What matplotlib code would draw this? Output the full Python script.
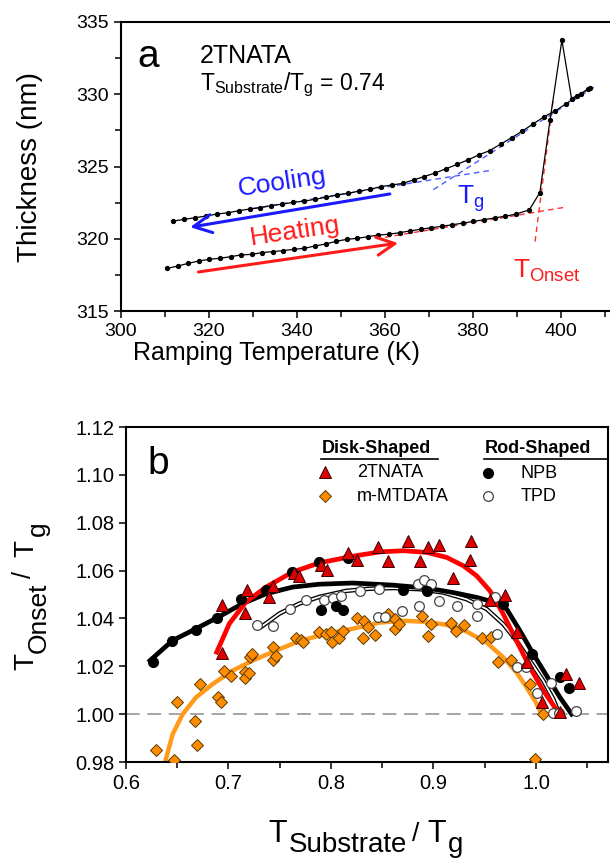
import matplotlib
matplotlib.use("Agg")
import matplotlib.pyplot as plt
from matplotlib.lines import Line2D

plt.rcParams['font.family'] = ['Liberation Sans', 'DejaVu Sans']
plt.rcParams['mathtext.fontset'] = 'custom'
plt.rcParams['mathtext.rm'] = 'Liberation Sans'
plt.rcParams['mathtext.default'] = 'regular'

# ---------- panel a : thickness vs ramping temperature ----------
heat_T = [310.5, 312.9, 315.3, 317.7, 320.1, 322.5, 324.9, 327.3, 329.7, 332.1,
          334.5, 336.9, 339.3, 341.7, 344.1, 346.5, 348.9, 351.3, 353.7, 356.1,
          358.5, 360.9, 363.3, 365.7, 368.1, 370.5, 372.9, 375.3, 377.7, 380.1,
          382.5, 384.9, 387.3, 389.7, 392.8, 395.2, 397.5, 400.2, 402.4, 404.5, 406.6]
heat_d = [317.95, 318.11, 318.30, 318.46, 318.58, 318.65, 318.76, 318.88, 318.92, 319.04,
          319.11, 319.18, 319.27, 319.34, 319.50, 319.64, 319.82, 319.96, 320.03, 320.14,
          320.26, 320.31, 320.42, 320.54, 320.66, 320.76, 320.86, 320.97, 321.08, 321.20,
          321.32, 321.44, 321.56, 321.70, 322.00, 323.20, 328.20, 333.75, 329.70, 330.05, 330.40]

cool_T = [311.9, 314.4, 316.9, 319.3, 321.8, 324.3, 326.8, 329.3, 331.7, 334.2,
          336.7, 339.2, 341.7, 344.1, 346.6, 349.1, 351.6, 354.1, 356.5, 359.0,
          361.5, 364.0, 366.5, 368.9, 371.4, 373.9, 376.4, 378.8, 381.3, 383.8,
          386.3, 388.8, 391.2, 393.7, 396.2, 398.7, 401.2, 403.6, 406.1]
cool_d = [321.23, 321.34, 321.46, 321.57, 321.71, 321.80, 321.94, 322.06, 322.15, 322.29,
          322.40, 322.52, 322.61, 322.73, 322.87, 323.03, 323.14, 323.30, 323.42, 323.60,
          323.72, 323.83, 324.07, 324.30, 324.55, 324.85, 325.15, 325.45, 325.80, 326.10,
          326.55, 327.00, 327.45, 327.95, 328.45, 328.85, 329.35, 329.85, 330.35]

# tangent construction lines
tg_glass_T, tg_glass_d = [330.0, 384.6], [322.10, 324.76]
tg_liq_T, tg_liq_d = [371.0, 408.1], [323.40, 330.60]
on_glass_T, on_glass_d = [360.0, 401.3], [320.10, 322.20]
on_steep_T, on_steep_d = [394.1, 398.3], [319.80, 329.80]

# arrows (tail, head)
cool_arrow = [(361.1, 323.1), (315.7, 320.8)]
heat_arrow = [(317.6, 317.7), (363.0, 319.7)]

# ---------- panel b : T_onset/Tg vs T_substrate/Tg ----------
tnata_x = [0.694, 0.718, 0.716, 0.694, 0.740, 0.743, 0.764, 0.769, 0.790, 0.796,
           0.817, 0.825, 0.846, 0.856, 0.875, 0.887, 0.895, 0.905, 0.919, 0.936,
           0.937, 0.955, 0.970, 0.981, 0.991, 1.0055, 1.0234, 1.029, 1.042]
tnata_y = [1.0458, 1.0520, 1.0424, 1.0256, 1.0490, 1.0537, 1.0590, 1.0578, 1.0625, 1.0602,
           1.0672, 1.0644, 1.0698, 1.0642, 1.0723, 1.0642, 1.0698, 1.0708, 1.0569, 1.0646,
           1.0723, 1.0478, 1.0500, 1.0345, 1.0220, 1.0050, 1.0010, 1.0167, 1.0130]

mtd_x = [0.629, 0.650, 0.647, 0.6725, 0.667, 0.669, 0.690, 0.693, 0.696, 0.702,
         0.716, 0.716, 0.720, 0.721, 0.723, 0.743, 0.743, 0.746, 0.766, 0.771,
         0.773, 0.788, 0.795, 0.800, 0.801, 0.8075, 0.812, 0.825, 0.831, 0.832,
         0.8364, 0.843, 0.856, 0.862, 0.862, 0.866, 0.8885, 0.895, 0.898, 0.917,
         0.9216, 0.930, 0.947, 0.956, 0.963, 0.976, 0.994, 1.007, 0.999]
mtd_y = [0.985, 1.005, 0.981, 1.0126, 0.997, 0.987, 1.0073, 1.005, 1.018, 1.016,
         1.0175, 1.015, 1.017, 1.0238, 1.025, 1.028, 1.0227, 1.0245, 1.032, 1.031,
         1.030, 1.0345, 1.0333, 1.0345, 1.0303, 1.032, 1.0347, 1.040, 1.0317, 1.039,
         1.0366, 1.033, 1.0418, 1.0397, 1.0355, 1.0376, 1.041, 1.0327, 1.0376, 1.038,
         1.0348, 1.0372, 1.0318, 1.0323, 1.022, 1.0226, 1.0125, 1.000, 0.9812]

npb_x = [0.626, 0.645, 0.668, 0.689, 0.712, 0.737, 0.762, 0.788, 0.817, 0.790,
         0.805, 0.812, 0.870, 0.894, 0.968, 0.996, 1.023, 1.0325]
npb_y = [1.0220, 1.0305, 1.0350, 1.0400, 1.0480, 1.0520, 1.0594, 1.0636, 1.0652, 1.0436,
         1.0453, 1.0436, 1.0520, 1.0514, 1.0460, 1.0250, 1.0155, 1.0110]

tpd_x = [0.7275, 0.743, 0.760, 0.776, 0.793, 0.802, 0.810, 0.828, 0.847, 0.846,
         0.853, 0.869, 0.886, 0.885, 0.891, 0.898, 0.905, 0.923, 0.942, 0.942,
         0.960, 0.962, 0.981, 0.990, 1.0007, 1.015, 1.017, 1.022, 1.039]
tpd_y = [1.0373, 1.0367, 1.0440, 1.0475, 1.0478, 1.0487, 1.0495, 1.0515, 1.0522, 1.0404,
         1.0407, 1.0430, 1.0450, 1.0543, 1.0560, 1.0545, 1.0474, 1.0453, 1.0462, 1.0411,
         1.0488, 1.0334, 1.0195, 1.0195, 1.0090, 1.0132, 1.0003, 1.0003, 1.0015]

# fitted curves
fit_tnata_x = [0.6885, 0.7008, 0.7171, 0.7366, 0.7626, 0.7886, 0.8211, 0.8478, 0.8706,
               0.8933, 0.9129, 0.9291, 0.9421, 0.9551, 0.9681, 0.9811, 0.9941, 1.0072,
               1.0202, 1.0234]
fit_tnata_y = [1.0259, 1.0378, 1.0469, 1.0531, 1.0594, 1.0632, 1.0660, 1.0678, 1.0683,
               1.0676, 1.0655, 1.0620, 1.0578, 1.0515, 1.0418, 1.0306, 1.0195, 1.0098,
               1.0017, 1.0000]
fit_npb_x = [0.6234, 0.6455, 0.6683, 0.6911, 0.7138, 0.7366, 0.7626, 0.7886, 0.8211,
             0.8608, 0.8933, 0.9194, 0.9421, 0.9584, 0.9714, 0.9844, 0.9974, 1.0104,
             1.0234, 1.0348]
fit_npb_y = [1.0224, 1.0308, 1.0357, 1.0408, 1.0462, 1.0503, 1.0531, 1.0543, 1.0548,
             1.0539, 1.0527, 1.0508, 1.0488, 1.0469, 1.0439, 1.0348, 1.0251, 1.0160,
             1.0070, 1.0000]
fit_tpd_x = [0.7317, 0.7496, 0.7691, 0.7886, 0.8146, 0.8374, 0.8608, 0.8868, 0.9096,
             0.9324, 0.9519, 0.9681, 0.9811, 0.9941, 1.0072, 1.0169, 1.0228]
fit_tpd_y = [1.0364, 1.0420, 1.0462, 1.0490, 1.0515, 1.0524, 1.0527, 1.0522, 1.0508,
             1.0480, 1.0439, 1.0376, 1.0306, 1.0223, 1.0139, 1.0063, 1.0000]
fit_mtd_x = [0.6384, 0.6455, 0.6553, 0.6683, 0.6846, 0.7041, 0.7236, 0.7463, 0.7691,
             0.7951, 0.8211, 0.8478, 0.8706, 0.8933, 0.9129, 0.9324, 0.9519, 0.9681,
             0.9811, 0.9909, 0.9990, 1.0055]
fit_mtd_y = [0.9804, 0.9916, 1.0000, 1.0070, 1.0126, 1.0182, 1.0224, 1.0266, 1.0305,
             1.0336, 1.0357, 1.0383, 1.0390, 1.0386, 1.0373, 1.0345, 1.0299, 1.0237,
             1.0174, 1.0111, 1.0056, 1.0000]

W, H = 610, 859
fig = plt.figure(figsize=(W / 100, H / 100), dpi=100)

def box(l, r, t, b):
    return [l / W, (H - b) / H, (r - l) / W, (b - t) / H]

def ptext(x, y, s, size, rot=0):
    # text piece placed in figure pixels (y measured from the top)
    fig.text(x / W, 1 - y / H, s, fontsize=size, rotation=rot,
             rotation_mode='anchor', ha='left', va='baseline')

tick_fs = 14

# ===== panel a =====
ax = fig.add_axes(box(121, 612, 22, 311))
ax.plot(heat_T, heat_d, '-', color='black', lw=0.9, marker='o', ms=2.8, zorder=3)
ax.plot(cool_T, cool_d, '-', color='black', lw=0.9, marker='o', ms=2.8, zorder=3)
ax.plot(tg_glass_T, tg_glass_d, color='#4a5cff', lw=1, dashes=(4, 3), zorder=2)
ax.plot(tg_liq_T, tg_liq_d, color='#4a5cff', lw=1, dashes=(4, 3), zorder=2)
ax.plot(on_glass_T, on_glass_d, color='#ff3030', lw=1, dashes=(4, 3), zorder=2)
ax.plot(on_steep_T, on_steep_d, color='#ff3030', lw=1, dashes=(4, 3), zorder=2)

ax.annotate('', xy=cool_arrow[1], xytext=cool_arrow[0],
            arrowprops=dict(arrowstyle='->,head_length=1.3,head_width=0.65',
                            color='#1a1aff', lw=2.2, shrinkA=0, shrinkB=0))
ax.annotate('', xy=heat_arrow[1], xytext=heat_arrow[0],
            arrowprops=dict(arrowstyle='->,head_length=1.3,head_width=0.65',
                            color='#ff1a1a', lw=2.2, shrinkA=0, shrinkB=0))

ax.text(336.6, 323.9, 'Cooling', color='#1a1aff', fontsize=19, rotation=8.5,
        ha='center', va='center')
ax.text(339.5, 320.5, 'Heating', color='#ff1a1a', fontsize=19, rotation=8.5,
        ha='center', va='center')
ax.text(376.4, 322.4, r'T$_{g}$', color='#1a1aff', fontsize=19, ha='left', va='baseline')
ax.text(389.1, 317.3, r'T$_{Onset}$', color='#ff1a1a', fontsize=19, ha='left', va='baseline')

ax.text(0.033, 0.844, 'a', transform=ax.transAxes, fontsize=28, va='baseline')
ax.text(0.161, 0.858, '2TNATA', transform=ax.transAxes, fontsize=18, va='baseline')
ax.text(0.161, 0.765, r'T$_{Substrate}$/T$_{g}$ = 0.74', transform=ax.transAxes,
        fontsize=16.5, va='baseline')

ax.set_xlim(300, 300 + 491 / 4.4)
ax.set_ylim(315, 335)
ax.set_xticks([300, 320, 340, 360, 380, 400])
ax.set_xticks(range(310, 411, 20), minor=True)
ax.set_yticks([315, 320, 325, 330, 335])
ax.set_yticks([317.5, 322.5, 327.5, 332.5], minor=True)
ax.tick_params(which='both', direction='out', labelsize=tick_fs, width=1.1)
ax.tick_params(which='major', length=5)
ax.tick_params(which='minor', length=4)
for s in ax.spines.values():
    s.set_linewidth(1.5)
ax.set_xlabel('Ramping Temperature (K)', fontsize=18)
ax.xaxis.set_label_coords(0.317, -0.105)
ax.set_ylabel('Thickness (nm)', fontsize=20)
ax.yaxis.set_label_coords(-0.158, 0.5)

# ===== panel b =====
bx = fig.add_axes(box(126, 608, 427, 762))
bx.axhline(1.0, color='#8c8c8c', lw=1.1, dashes=(9, 5), zorder=1)

bx.plot(fit_mtd_x, fit_mtd_y, '-', color='#ff9a1a', lw=3.2, zorder=2)
bx.plot(fit_tpd_x, fit_tpd_y, '-', color='black', lw=3.2, zorder=2)
bx.plot(fit_tpd_x, fit_tpd_y, '-', color='white', lw=1.3, zorder=2)
bx.plot(fit_npb_x, fit_npb_y, '-', color='black', lw=3.4, zorder=2)
bx.plot(fit_tnata_x, fit_tnata_y, '-', color='#ff0000', lw=3.4, zorder=2)

bx.plot(mtd_x, mtd_y, 'D', ms=6.5, mfc='#ff8c00', mec='#5a3a00', mew=0.7, ls='none', zorder=3)
bx.plot(tpd_x, tpd_y, 'o', ms=7, mfc='white', mec='#444444', mew=0.9, ls='none', zorder=3)
bx.plot(npb_x, npb_y, 'o', ms=7, mfc='black', mec='black', ls='none', zorder=3)
bx.plot(tnata_x, tnata_y, '^', ms=8, mfc='#dd0000', mec='#3a0000', mew=0.7, ls='none', zorder=3)

bx.set_xlim(0.6, 0.6 + 482 / 1025)
bx.set_ylim(0.98, 1.12)
bx.set_xticks([0.6, 0.7, 0.8, 0.9, 1.0])
bx.set_xticklabels(['0.6', '0.7', '0.8', '0.9', '1.0'])
bx.set_xticks([0.65, 0.75, 0.85, 0.95, 1.05], minor=True)
bx.set_yticks([0.98, 1.00, 1.02, 1.04, 1.06, 1.08, 1.10, 1.12])
bx.set_yticklabels(['0.98', '1.00', '1.02', '1.04', '1.06', '1.08', '1.10', '1.12'])
bx.tick_params(which='both', direction='out', labelsize=14.5, width=1.1)
bx.tick_params(which='major', length=5)
bx.tick_params(which='minor', length=4)
for s in bx.spines.values():
    s.set_linewidth(1.5)

# axis titles of panel b: large subscripts, so built from pieces
ptext(268, 842, 'T', 22)
ptext(289, 852, 'Substrate', 20)
ptext(412, 841, '/', 19)
ptext(427, 842, 'T', 22)
ptext(448, 852, 'g', 20)

ptext(33, 670, 'T', 20, rot=90)
ptext(46, 653, 'Onset', 19, rot=90)
ptext(31, 578, '/', 18, rot=90)
ptext(33, 557, 'T', 20, rot=90)
ptext(45, 536, 'g', 19, rot=90)

bx.text(0.045, 0.86, 'b', transform=bx.transAxes, fontsize=28, va='baseline')

# legend drawn by hand: two grouped columns with underlined headers
leg_fs = 13
tA = bx.transAxes
bx.text(0.406, 0.937, 'Disk-Shaped', transform=tA, fontsize=leg_fs, fontweight='bold', va='center')
bx.text(0.745, 0.937, 'Rod-Shaped', transform=tA, fontsize=leg_fs, fontweight='bold', va='center')
bx.add_line(Line2D([0.404, 0.647], [0.904, 0.904], transform=tA, color='black', lw=1.2))
bx.add_line(Line2D([0.743, 1.0], [0.904, 0.904], transform=tA, color='black', lw=1.2))
bx.add_line(Line2D([0.413], [0.866], transform=tA, marker='^', ms=8, mfc='#dd0000', mec='#3a0000', mew=0.7))
bx.add_line(Line2D([0.413], [0.794], transform=tA, marker='D', ms=6.5, mfc='#ff8c00', mec='#5a3a00', mew=0.7))
bx.add_line(Line2D([0.752], [0.862], transform=tA, marker='o', ms=7, mfc='black', mec='black'))
bx.add_line(Line2D([0.752], [0.794], transform=tA, marker='o', ms=7, mfc='white', mec='#444444', mew=0.9))
bx.text(0.479, 0.864, '2TNATA', transform=tA, fontsize=leg_fs, va='center')
bx.text(0.479, 0.792, 'm-MTDATA', transform=tA, fontsize=leg_fs, va='center')
bx.text(0.819, 0.862, 'NPB', transform=tA, fontsize=leg_fs, va='center')
bx.text(0.819, 0.792, 'TPD', transform=tA, fontsize=leg_fs, va='center')

fig.savefig('out.png', dpi=100)
